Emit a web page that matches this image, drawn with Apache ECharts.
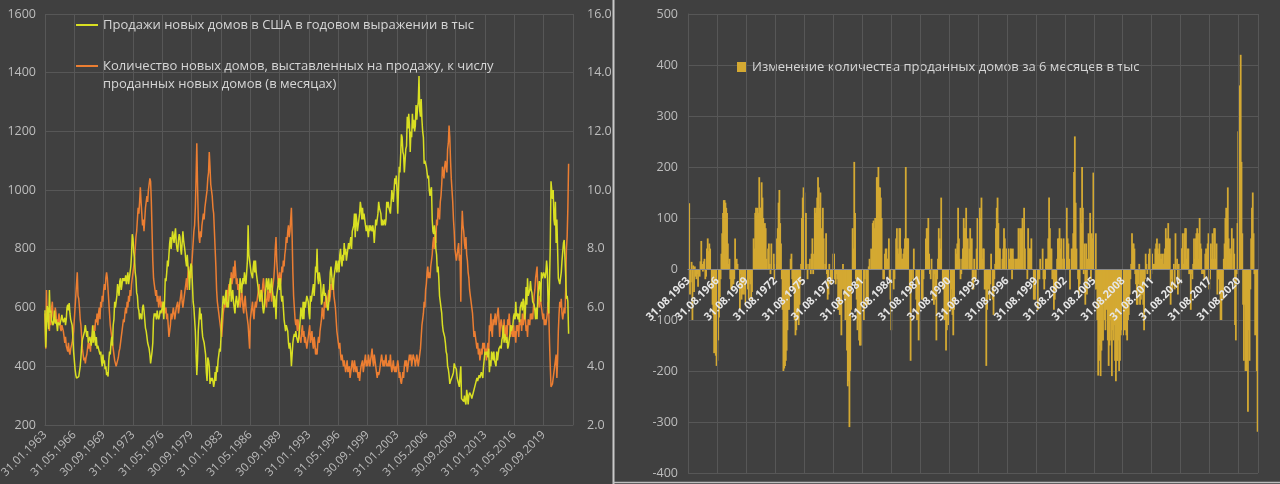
<!DOCTYPE html>
<html>
<head>
<meta charset="utf-8">
<script src="https://cdn.jsdelivr.net/npm/echarts@6/dist/echarts.min.js"></script>
<style>
html, body { margin: 0; padding: 0; background: #404040; }
#chart { width: 1280px; height: 484px; }
</style>
</head>
<body>
<div id="chart"></div>
<script>
// ---- Series names ----
const salesName = 'Продажи новых домов в США в годовом выражении в тыс';
const supplyName = 'Количество новых домов, выставленных на продажу, к числу\nпроданных новых домов (в месяцах)';
const changeName = 'Изменение количества проданных домов за 6 месяцев в тыс';

// ---- Category ranges (month ends) ----
const leftFirstMonth = [1963, 1];   // 31.01.1963
const leftLastMonth = [2023, 1];    // axis runs to the end of 2022
const rightFirstMonth = [1963, 8];  // 31.08.1963
const rightLastMonth = [2022, 7];

// ---- Left chart: new home sales, SAAR, thousands (Jan 1963 .. Jul 2022) ----
const sales = [
591, 464, 461, 605, 586, 526, 660, 583, 590, 555, 560, 540, // 1963
560, 590, 545, 560, 545, 520, 550, 555, 540, 545, 560, 575, // 1964
560, 550, 555, 565, 540, 560, 600, 610, 590, 615, 580, 560, // 1965
560, 540, 500, 450, 420, 390, 370, 360, 360, 355, 365, 370, // 1966
400, 430, 470, 490, 500, 500, 520, 540, 520, 500, 520, 480, // 1967
480, 500, 490, 470, 500, 540, 480, 520, 500, 470, 500, 460, // 1968
470, 460, 450, 440, 450, 420, 400, 440, 410, 420, 390, 400, // 1969
370, 380, 365, 420, 450, 440, 480, 500, 470, 540, 560, 620, // 1970
600, 620, 640, 680, 660, 640, 690, 700, 660, 680, 700, 690, // 1971
700, 690, 710, 680, 700, 720, 680, 700, 720, 740, 780, 850, // 1972
835, 790, 770, 720, 700, 650, 640, 600, 590, 560, 580, 570, // 1973
560, 600, 610, 590, 560, 530, 520, 500, 480, 470, 460, 440, // 1974
410, 430, 450, 480, 560, 580, 570, 580, 560, 590, 570, 560, // 1975
570, 590, 580, 580, 600, 620, 560, 620, 700, 690, 720, 760, // 1976
740, 780, 820, 840, 800, 830, 860, 840, 820, 850, 870, 820, // 1977
800, 790, 830, 850, 840, 800, 780, 820, 860, 830, 810, 790, // 1978
760, 740, 780, 740, 720, 660, 720, 750, 740, 680, 620, 600, // 1979
560, 520, 520, 370, 420, 520, 560, 600, 560, 580, 530, 500, // 1980
500, 480, 460, 440, 380, 350, 430, 420, 400, 340, 360, 350, // 1981
360, 350, 330, 345, 380, 350, 400, 380, 420, 440, 460, 450, // 1982
500, 560, 600, 640, 620, 610, 640, 660, 600, 620, 600, 640, // 1983
680, 700, 620, 640, 660, 620, 620, 580, 620, 640, 620, 600, // 1984
620, 640, 700, 680, 650, 680, 700, 680, 720, 700, 680, 720, // 1985
760, 880, 780, 760, 740, 720, 720, 700, 740, 760, 720, 760, // 1986
720, 700, 680, 660, 640, 620, 640, 660, 640, 600, 580, 600, // 1987
640, 660, 700, 680, 660, 700, 670, 650, 680, 700, 660, 640, // 1988
600, 640, 620, 560, 640, 660, 680, 700, 660, 700, 640, 620, // 1989
640, 600, 560, 540, 520, 540, 530, 520, 480, 460, 480, 450, // 1990
400, 440, 480, 500, 510, 500, 520, 500, 500, 480, 500, 520, // 1991
560, 600, 580, 560, 620, 560, 620, 600, 620, 640, 640, 620, // 1992
580, 560, 640, 620, 620, 660, 680, 640, 680, 740, 720, 800, // 1993
700, 680, 720, 700, 680, 610, 620, 660, 680, 640, 650, 640, // 1994
620, 600, 590, 620, 660, 720, 740, 740, 680, 660, 700, 720, // 1995
740, 760, 720, 740, 760, 720, 780, 800, 760, 740, 780, 760, // 1996
820, 780, 800, 760, 780, 780, 820, 800, 820, 840, 800, 860, // 1997
860, 880, 920, 840, 920, 900, 860, 880, 900, 920, 960, 940, // 1998
900, 940, 900, 920, 900, 880, 860, 880, 860, 840, 880, 860, // 1999
880, 880, 860, 880, 860, 820, 860, 900, 880, 900, 920, 960, // 2000
940, 940, 920, 880, 900, 880, 880, 900, 880, 900, 960, 940, // 2001
960, 940, 940, 920, 960, 1000, 980, 960, 1000, 1040, 1020, 1050, // 2002
1000, 920, 1000, 1080, 1060, 1120, 1190, 1180, 1130, 1120, 1060, 1100, // 2003
1140, 1150, 1250, 1210, 1260, 1220, 1130, 1200, 1180, 1260, 1210, 1240, // 2004
1200, 1220, 1290, 1240, 1280, 1300, 1389, 1270, 1250, 1310, 1240, 1200, // 2005
1180, 1090, 1100, 1100, 1080, 1060, 1040, 1050, 1000, 980, 1000, 1010, // 2006
900, 860, 850, 880, 860, 800, 780, 720, 740, 700, 640, 620, // 2007
600, 580, 540, 520, 510, 500, 480, 450, 440, 400, 390, 370, // 2008
340, 350, 350, 350, 370, 380, 410, 400, 400, 390, 360, 350, // 2009
340, 330, 370, 400, 290, 290, 290, 280, 300, 280, 270, 320, // 2010
300, 270, 300, 310, 310, 300, 290, 300, 310, 320, 320, 340, // 2011
340, 360, 350, 350, 370, 360, 370, 380, 380, 360, 400, 400, // 2012
450, 440, 440, 450, 430, 460, 380, 420, 400, 450, 440, 420, // 2013
450, 420, 420, 400, 450, 420, 420, 460, 460, 470, 460, 490, // 2014
500, 540, 480, 510, 500, 480, 500, 460, 470, 490, 510, 540, // 2015
520, 520, 540, 570, 580, 560, 620, 570, 580, 560, 580, 550, // 2016
600, 600, 620, 590, 630, 620, 560, 580, 670, 610, 700, 640, // 2017
640, 660, 690, 660, 650, 620, 620, 610, 590, 560, 600, 560, // 2018
640, 660, 690, 680, 620, 720, 700, 700, 720, 720, 700, 720, // 2019
760, 730, 610, 580, 690, 810, 1030, 1000, 970, 1000, 900, 880, // 2020
960, 820, 900, 800, 700, 700, 680, 700, 720, 760, 760, 820, // 2021
830, 770, 710, 630, 640, 620, 511 // 2022
];

// ---- Left chart: months' supply of new houses (Jan 1963 .. Jul 2022) ----
const supply = [
5.8, 4.6, 6.6, 5.5, 6.0, 5.6, 5.2, 5.8, 5.4, 6.0, 6.2, 5.7, // 1963
5.6, 5.5, 6.0, 5.8, 5.4, 5.6, 5.5, 5.8, 5.6, 5.3, 5.2, 5.4, // 1964
5.4, 5.2, 5.0, 4.8, 5.0, 4.7, 4.6, 4.5, 4.8, 4.5, 4.4, 4.6, // 1965
4.6, 4.8, 5.0, 5.2, 5.6, 6.0, 6.4, 6.8, 7.2, 6.4, 6.3, 6.0, // 1966
5.6, 5.4, 5.0, 4.6, 4.4, 4.2, 4.3, 4.1, 4.3, 4.4, 4.6, 4.8, // 1967
4.6, 4.8, 4.5, 5.0, 4.8, 5.2, 5.0, 5.4, 5.2, 5.6, 5.5, 5.8, // 1968
5.4, 5.8, 6.0, 5.6, 6.2, 6.0, 6.4, 6.2, 6.6, 6.8, 6.6, 7.0, // 1969
7.2, 7.0, 6.6, 6.2, 5.8, 5.4, 5.2, 5.0, 4.8, 4.6, 4.4, 4.2, // 1970
4.1, 4.0, 4.0, 4.2, 4.3, 4.5, 4.6, 4.8, 5.0, 5.2, 5.4, 5.6, // 1971
5.5, 5.8, 6.0, 5.8, 6.2, 6.0, 6.4, 6.2, 6.6, 6.4, 6.8, 7.0, // 1972
7.0, 7.4, 7.6, 8.0, 8.4, 8.6, 9.0, 9.4, 9.2, 9.6, 10.1, 9.6, // 1973
9.2, 8.8, 9.0, 8.6, 9.0, 9.4, 9.6, 9.8, 9.6, 10.0, 10.2, 10.4, // 1974
10.3, 9.6, 8.6, 7.6, 7.0, 6.8, 6.6, 6.4, 6.6, 6.2, 6.4, 6.0, // 1975
6.2, 6.4, 6.0, 6.2, 6.0, 5.8, 6.2, 6.0, 5.8, 6.0, 5.6, 5.8, // 1976
5.4, 5.0, 5.2, 5.4, 5.8, 5.6, 5.6, 6.0, 5.8, 5.6, 5.8, 6.0, // 1977
6.0, 6.2, 5.8, 6.0, 6.2, 6.4, 6.6, 6.2, 6.0, 6.2, 6.4, 6.6, // 1978
6.8, 7.0, 6.6, 7.2, 7.4, 7.0, 7.2, 7.0, 7.4, 7.8, 8.2, 8.6, // 1979
8.8, 9.4, 10.4, 11.6, 10.2, 9.0, 8.4, 8.2, 8.6, 8.4, 8.8, 9.0, // 1980
9.2, 9.0, 9.4, 9.6, 9.8, 10.0, 10.4, 10.6, 11.3, 10.8, 10.2, 10.0, // 1981
9.8, 9.4, 9.2, 8.6, 8.0, 7.4, 6.6, 6.2, 6.0, 5.8, 5.6, 5.4, // 1982
5.2, 5.0, 5.4, 5.8, 6.0, 6.2, 6.0, 6.4, 6.6, 6.2, 6.6, 6.8, // 1983
6.4, 6.8, 7.2, 6.8, 7.0, 7.4, 7.0, 7.6, 7.2, 6.8, 7.0, 6.6, // 1984
6.8, 6.4, 6.0, 6.2, 6.6, 6.4, 6.0, 5.8, 6.2, 6.4, 6.0, 5.8, // 1985
5.8, 5.4, 5.0, 4.6, 5.6, 5.8, 6.0, 6.2, 5.8, 5.6, 6.0, 6.2, // 1986
6.0, 6.2, 6.4, 6.6, 6.8, 6.4, 6.6, 6.2, 6.4, 6.8, 7.0, 6.6, // 1987
6.4, 6.2, 6.0, 6.4, 6.6, 6.2, 6.4, 6.8, 6.6, 6.2, 6.6, 6.8, // 1988
7.0, 7.4, 8.0, 8.4, 7.6, 7.2, 6.8, 7.0, 7.2, 6.8, 7.0, 7.4, // 1989
7.2, 7.6, 7.4, 7.8, 8.0, 8.4, 8.2, 8.6, 8.8, 8.4, 8.6, 9.0, // 1990
9.4, 8.4, 7.2, 6.4, 6.0, 5.6, 5.4, 5.6, 5.2, 5.6, 5.4, 5.0, // 1991
5.0, 4.8, 5.2, 5.4, 5.0, 5.2, 4.8, 5.0, 4.8, 4.6, 4.8, 5.0, // 1992
5.0, 5.4, 4.8, 5.0, 5.2, 4.8, 4.6, 5.0, 4.8, 4.4, 4.6, 4.4, // 1993
4.8, 5.0, 4.8, 5.2, 5.4, 5.6, 6.0, 5.8, 5.6, 6.2, 6.0, 6.4, // 1994
6.0, 6.2, 6.4, 6.6, 6.2, 6.4, 6.8, 6.6, 7.0, 6.8, 6.4, 6.2, // 1995
6.0, 5.6, 5.2, 5.0, 4.8, 4.6, 4.8, 4.4, 4.2, 4.4, 4.2, 4.0, // 1996
4.2, 4.0, 3.8, 4.0, 4.2, 3.8, 3.9, 4.0, 3.6, 3.8, 4.0, 4.2, // 1997
4.0, 3.8, 4.2, 4.0, 3.8, 4.0, 3.8, 3.6, 3.8, 3.5, 3.8, 4.0, // 1998
4.0, 4.2, 3.8, 4.0, 4.2, 4.4, 4.0, 4.2, 4.0, 4.4, 4.2, 4.0, // 1999
4.2, 4.4, 4.6, 4.2, 4.0, 4.4, 4.2, 4.0, 3.8, 3.6, 3.8, 3.7, // 2000
3.8, 4.0, 4.2, 4.4, 4.2, 4.0, 4.2, 4.0, 4.2, 4.4, 4.0, 4.1, // 2001
4.0, 4.2, 4.0, 4.4, 4.0, 3.8, 4.0, 4.2, 3.9, 3.8, 4.0, 3.8, // 2002
3.8, 4.2, 4.0, 3.6, 3.8, 3.5, 3.4, 3.6, 3.8, 3.6, 4.0, 4.2, // 2003
4.0, 4.2, 3.8, 4.0, 4.2, 4.4, 4.2, 4.4, 4.0, 4.2, 4.4, 4.3, // 2004
4.2, 4.0, 4.2, 4.4, 4.2, 4.0, 4.0, 4.4, 4.6, 5.0, 5.4, 5.6, // 2005
5.8, 6.2, 6.0, 6.6, 6.8, 7.2, 7.4, 7.0, 7.2, 7.0, 7.4, 7.6, // 2006
7.8, 8.2, 8.4, 8.0, 8.6, 8.2, 9.0, 8.8, 9.4, 9.2, 9.0, 9.6, // 2007
9.8, 10.2, 10.8, 10.6, 10.4, 10.8, 11.0, 10.8, 10.6, 11.4, 11.6, 12.2, // 2008
11.8, 11.0, 10.4, 10.0, 9.6, 9.0, 8.6, 8.0, 7.8, 7.6, 7.8, 8.0, // 2009
8.2, 7.6, 7.8, 6.2, 8.4, 9.3, 8.8, 8.6, 8.2, 8.0, 8.4, 7.8, // 2010
7.6, 7.2, 7.0, 6.6, 6.4, 6.2, 6.0, 5.8, 5.4, 5.0, 5.2, 5.0, // 2011
4.8, 4.6, 4.8, 4.4, 4.6, 4.2, 4.4, 4.6, 4.4, 4.8, 4.6, 4.8, // 2012
4.4, 4.6, 4.2, 4.6, 4.8, 4.4, 5.4, 5.2, 5.8, 5.2, 5.0, 5.6, // 2013
5.4, 5.6, 5.8, 5.4, 5.6, 5.8, 6.0, 5.6, 5.0, 5.4, 5.6, 5.4, // 2014
5.2, 5.0, 5.6, 5.0, 5.2, 5.4, 5.0, 5.6, 5.4, 5.8, 5.4, 5.0, // 2015
5.4, 5.2, 5.0, 5.4, 5.0, 5.2, 4.8, 5.4, 5.2, 5.4, 5.0, 5.6, // 2016
5.4, 5.6, 5.2, 5.8, 5.4, 5.6, 6.0, 5.6, 5.2, 5.4, 5.0, 5.6, // 2017
5.6, 5.4, 5.8, 5.6, 5.8, 5.6, 6.0, 6.4, 6.6, 7.0, 7.2, 7.4, // 2018
6.6, 6.2, 6.0, 6.4, 6.2, 6.0, 5.8, 5.6, 5.8, 5.4, 5.6, 5.4, // 2019
5.6, 5.8, 6.2, 5.8, 4.8, 4.0, 3.3, 3.3, 3.4, 3.6, 3.8, 4.0, // 2020
4.0, 4.4, 3.6, 4.2, 5.2, 5.8, 6.2, 6.0, 6.3, 5.8, 5.6, 5.8, // 2021
6.0, 5.8, 6.6, 8.0, 8.4, 9.4, 10.9 // 2022
];

// ---- Right chart: 6-month change in new home sales, thousands (Aug 1963 .. Jul 2022) ----
const change = [
119, 129, -50, -26, 14, // 1963 (Aug-Dec)
-100, 7, -45, 5, -15, -20, -10, -35, -5, -15, 15, 55, // 1964
10, -5, 15, 20, -20, -15, 40, 60, 35, 50, 40, 0, // 1965
-40, -70, -90, -165, -160, -170, -190, -180, -140, -95, -55, -20, // 1966
30, 70, 110, 135, 135, 130, 120, 110, 50, 10, 20, -20, // 1967
-40, -40, -30, -30, -20, 60, 0, 20, 10, 0, 0, -80, // 1968
-10, -60, -50, -30, -50, -40, -70, -20, -40, -20, -60, -20, // 1969
-30, -60, -45, 0, 60, 40, 110, 120, 105, 120, 110, 180, // 1970
120, 120, 170, 140, 100, 20, 90, 80, 20, 0, 40, 50, // 1971
10, -10, 50, 0, 0, 30, -20, 10, 10, 60, 80, 130, // 1972
155, 90, 50, -20, -80, -200, -195, -190, -180, -160, -120, -80, // 1973
-80, 0, 20, 30, -20, -40, -40, -100, -130, -120, -100, -90, // 1974
-110, -70, -30, 10, 100, 140, 160, 150, 110, 110, 10, -20, // 1975
0, 10, 20, -10, 30, 60, -10, 30, 120, 110, 120, 140, // 1976
180, 160, 120, 150, 80, 70, 120, 60, 0, 10, 70, -10, // 1977
-60, -50, 10, 0, -30, -20, -20, 30, 30, -20, -30, -10, // 1978
-20, -80, -80, -90, -90, -130, -40, 10, -40, -60, -100, -60, // 1979
-160, -230, -220, -310, -200, -80, 0, 80, 40, 210, 110, -20, // 1980
-60, -120, -100, -140, -150, -150, -70, -60, -60, -100, -20, 0, // 1981
-70, -70, -70, 5, 20, 0, 40, 30, 90, 95, 80, 100, // 1982
100, 180, 180, 200, 160, 160, 140, 100, 0, -20, -20, 30, // 1983
40, 40, 20, 20, 60, -20, -60, -120, 0, 0, -40, -20, // 1984
0, 60, 80, 40, 30, 80, 80, 40, 20, 20, 30, 40, // 1985
60, 200, 60, 60, 60, 0, -40, -180, -40, 0, -20, 40, // 1986
0, 0, -60, -100, -80, -140, -80, -40, -40, -60, -60, -20, // 1987
0, 0, 60, 80, 80, 100, 30, -10, -20, 20, 0, -60, // 1988
-70, -10, -60, -140, -20, 20, 80, 60, 40, 140, 0, -40, // 1989
-40, -100, -100, -160, -120, -80, -110, -80, -80, -80, -40, -90, // 1990
-130, -80, 0, 40, 30, 50, 120, 60, 20, -20, -10, 20, // 1991
40, 100, 80, 80, 120, 40, 60, 0, 40, 80, 20, 60, // 1992
-40, -40, 20, -20, -20, 40, 100, 80, 40, 120, 100, 140, // 1993
20, 40, 40, -40, -40, -190, -80, -20, -40, -60, -30, 30, // 1994
0, -60, -90, -20, 10, 80, 120, 140, 90, 40, 40, 0, // 1995
0, 20, 40, 80, 60, 0, 40, 40, 40, 0, 20, 40, // 1996
40, -20, 40, 20, 0, 20, 0, 20, 20, 80, 20, 80, // 1997
40, 80, 100, 0, 120, 40, 0, 0, -20, 80, 40, 40, // 1998
40, 60, 0, 0, -60, -60, -40, -60, -40, -80, -20, -20, // 1999
20, 0, 0, 40, -20, -40, -20, 20, 20, 20, 60, 140, // 2000
80, 40, 40, -20, -20, -80, -60, -40, -40, 20, 60, 60, // 2001
80, 40, 60, 20, 0, 60, 20, 20, 60, 120, 60, 50, // 2002
20, -40, 0, 40, 40, 70, 190, 260, 130, 40, 0, -20, // 2003
-50, -30, 120, 90, 200, 120, -10, 50, -70, 50, -50, 20, // 2004
70, 20, 110, -20, 70, 60, 189, 50, -40, 70, -40, -100, // 2005
-209, -180, -150, -210, -160, -140, -140, -40, -100, -120, -80, -50, // 2006
-140, -190, -150, -100, -140, -210, -120, -140, -110, -180, -220, -180, // 2007
-180, -140, -200, -180, -130, -120, -120, -130, -100, -120, -120, -130, // 2008
-140, -100, -90, -50, -20, 10, 70, 50, 50, 40, -10, -30, // 2009
-70, -70, -30, 10, -70, -60, -50, -50, -70, -120, -20, 30, // 2010
10, -10, 0, 30, 40, -20, -10, 30, 10, 10, 10, 40, // 2011
50, 60, 40, 30, 50, 20, 30, 20, 30, 10, 30, 40, // 2012
80, 60, 60, 90, 30, 60, -70, -20, -40, 0, 10, -40, // 2013
70, 0, 20, -50, 10, 0, -30, 40, 40, 70, 10, 70, // 2014
80, 80, 20, 40, 40, -10, 0, -80, -10, -20, 10, 60, // 2015
20, 60, 70, 80, 70, 20, 100, 50, 40, -10, 0, -10, // 2016
-20, 30, 40, 30, 50, 70, -40, -20, 50, 20, 70, 20, // 2017
80, 80, 20, 50, -50, -20, -20, -50, -100, -100, -50, -60, // 2018
20, 50, 100, 120, 20, 160, 60, 40, 30, 40, 80, 0, // 2019
60, 30, -110, -140, -10, 90, 270, 270, 360, 420, 210, 70, // 2020
-70, -180, -70, -200, -200, -180, -280, -120, -180, -40, 60, 120, // 2021
150, 70, -10, -130, -120, -200, -319 // 2022
];

// ---- Axis ranges / ticks ----
const leftAxis = { min: 200, max: 1600, interval: 200 };
const leftAxis2 = { min: 2, max: 16, interval: 2 };
const rightAxis = { min: -400, max: 500, interval: 100 };
const leftLabelEvery = 40;   // months between date labels, left chart
const rightLabelEvery = 36;  // months between date labels, right chart

// month-end date labels "DD.MM.YYYY"
function monthEndLabels(from, to) {
  const out = [];
  let y = from[0], m = from[1];
  while (y < to[0] || (y === to[0] && m <= to[1])) {
    const d = new Date(y, m, 0).getDate();
    out.push(String(d).padStart(2, '0') + '.' + String(m).padStart(2, '0') + '.' + y);
    m++; if (m > 12) { m = 1; y++; }
  }
  return out;
}
const leftCats = monthEndLabels(leftFirstMonth, leftLastMonth);
const rightCats = monthEndLabels(rightFirstMonth, rightLastMonth);

const FONT = 'Open Sans';
const gridColor = '#575757';
const labelColor = '#bdbdbd';
const legendText = { color: '#d6d6d6', fontSize: 13, fontFamily: FONT, lineHeight: 18 };

// right plot geometry (used to lift the date axis onto the zero line)
const rightGrid = { left: 688, top: 14, width: 570, height: 459 };
const zeroOffset = -rightGrid.height * (0 - rightAxis.min) / (rightAxis.max - rightAxis.min);

const chart = echarts.init(document.getElementById('chart'), null, { renderer: 'canvas' });
chart.setOption({
  backgroundColor: '#404040',
  animation: false,
  textStyle: { fontFamily: FONT },
  grid: [
    { left: 45, top: 14, width: 528, height: 411, containLabel: false, outerBoundsMode: 'none' },
    Object.assign({ containLabel: false, outerBoundsMode: 'none' }, rightGrid)
  ],
  legend: [
    {
      data: [salesName], left: 76, top: 16, orient: 'vertical', padding: 0,
      icon: 'rect', itemWidth: 22, itemHeight: 2, textStyle: legendText
    },
    {
      data: [supplyName], left: 76, top: 39, orient: 'vertical', padding: 0,
      icon: 'rect', itemWidth: 22, itemHeight: 2, textStyle: legendText,
      formatter: name => ' \n' + name
    },
    {
      data: [changeName], left: 737, top: 58, orient: 'vertical', padding: 0,
      icon: 'rect', itemWidth: 10, itemHeight: 10, textStyle: legendText
    }
  ],
  xAxis: [
    {
      type: 'category', gridIndex: 0, data: leftCats, boundaryGap: false,
      axisLine: { show: true, lineStyle: { color: gridColor } },
      axisTick: { show: false },
      axisLabel: {
        interval: leftLabelEvery - 1, rotate: 45, color: labelColor, fontSize: 11.5, margin: 8,
        formatter: (v, i) => (i === leftCats.length - 1 ? '' : v)
      },
      splitLine: { show: true, interval: leftLabelEvery - 1, lineStyle: { color: gridColor, width: 1 } }
    },
    {
      type: 'category', gridIndex: 1, data: rightCats, boundaryGap: true, position: 'bottom',
      offset: zeroOffset, z: 10,
      axisLine: { show: true, onZero: false, lineStyle: { color: '#8a8a8a' } },
      axisTick: { show: false },
      axisLabel: {
        interval: rightLabelEvery - 1, rotate: 45, color: '#e6e6e6', fontSize: 11, fontWeight: 'bold', margin: 10
      },
      splitLine: { show: true, interval: rightLabelEvery - 1, lineStyle: { color: gridColor, width: 1 } }
    }
  ],
  yAxis: [
    {
      type: 'value', gridIndex: 0, min: leftAxis.min, max: leftAxis.max, interval: leftAxis.interval,
      axisLine: { show: false }, axisTick: { show: false },
      axisLabel: { color: labelColor, fontSize: 12.5, margin: 9, formatter: v => String(v) },
      splitLine: { show: true, lineStyle: { color: gridColor } }
    },
    {
      type: 'value', gridIndex: 0, position: 'right', min: leftAxis2.min, max: leftAxis2.max, interval: leftAxis2.interval,
      axisLine: { show: false }, axisTick: { show: false },
      axisLabel: { color: labelColor, fontSize: 12.5, margin: 14, formatter: v => v.toFixed(1) },
      splitLine: { show: false }
    },
    {
      type: 'value', gridIndex: 1, min: rightAxis.min, max: rightAxis.max, interval: rightAxis.interval,
      axisLine: { show: true, lineStyle: { color: gridColor } }, axisTick: { show: false },
      axisLabel: { color: labelColor, fontSize: 12.5, margin: 10, formatter: v => String(v) },
      splitLine: { show: true, lineStyle: { color: gridColor } }
    }
  ],
  series: [
    {
      name: salesName, type: 'line', xAxisIndex: 0, yAxisIndex: 0, data: sales,
      showSymbol: false, symbol: 'none', color: '#d9df22',
      lineStyle: { width: 1.5, color: '#d9df22' }, z: 3
    },
    {
      name: supplyName, type: 'line', xAxisIndex: 0, yAxisIndex: 1, data: supply,
      showSymbol: false, symbol: 'none', color: '#ec7e32',
      lineStyle: { width: 1.5, color: '#ec7e32' }, z: 2
    },
    {
      name: changeName, type: 'bar', xAxisIndex: 1, yAxisIndex: 2, data: change,
      color: '#d4a932', barWidth: 1.8, itemStyle: { color: '#d4a932' }, z: 2
    }
  ],
  graphic: [
    { type: 'line', shape: { x1: 613.5, y1: 0, x2: 613.5, y2: 484 }, style: { stroke: '#c9c9c9', lineWidth: 2 }, z: 100 },
    { type: 'line', shape: { x1: 613, y1: 482.5, x2: 1280, y2: 482.5 }, style: { stroke: '#bdbdbd', lineWidth: 1.5 }, z: 100 }
  ]
});
</script>
</body>
</html>
